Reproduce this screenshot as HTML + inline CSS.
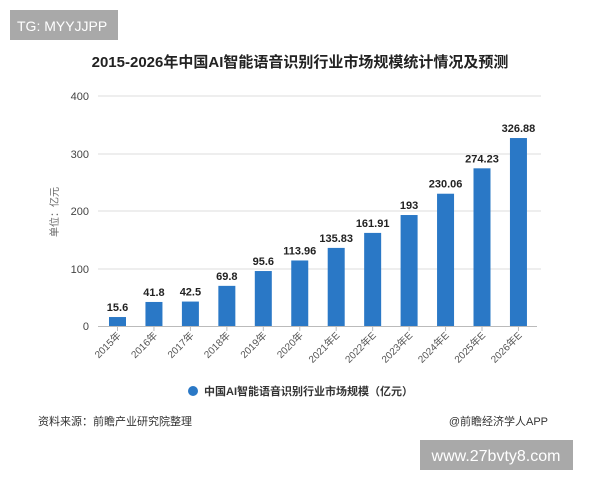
<!DOCTYPE html>
<html><head><meta charset="utf-8"><style>
body{margin:0;width:600px;height:480px;background:#fff;overflow:hidden;font-family:"Liberation Sans","Noto Sans CJK SC",sans-serif;}
</style></head><body>
<svg width="600" height="480" xmlns="http://www.w3.org/2000/svg" font-family="Liberation Sans, Noto Sans CJK SC, sans-serif">
<rect x="10" y="10" width="108" height="30" fill="#a9a9a9"/>
<text x="17" y="31" font-size="14" fill="#fff">TG: MYYJJPP</text>
<text x="300" y="67" font-size="15" font-weight="bold" text-anchor="middle" fill="#222">2015-2026年中国AI智能语音识别行业市场规模统计情况及预测</text>
<g stroke="#ddd" stroke-width="1">
<line x1="98" y1="96" x2="541" y2="96"/><line x1="98" y1="154" x2="541" y2="154"/><line x1="98" y1="211" x2="541" y2="211"/><line x1="98" y1="269" x2="541" y2="269"/>
</g>
<line x1="98" y1="326.5" x2="537" y2="326.5" stroke="#bbb"/>
<g font-size="11" fill="#444" text-anchor="end">
<text x="89" y="100">400</text><text x="89" y="158">300</text><text x="89" y="215">200</text><text x="89" y="273">100</text><text x="89" y="330">0</text>
</g>
<text transform="translate(58,212) rotate(-90)" font-size="10" fill="#666" text-anchor="middle">单位：亿元</text>
<g fill="#2a78c6">
<rect x="109" y="317.03" width="17" height="8.97"/>
<rect x="145.45" y="301.96" width="17" height="24.04"/>
<rect x="181.9" y="301.56" width="17" height="24.44"/>
<rect x="218.35" y="285.86" width="17" height="40.14"/>
<rect x="254.8" y="271.03" width="17" height="54.97"/>
<rect x="291.25" y="260.47" width="17" height="65.53"/>
<rect x="327.7" y="247.9" width="17" height="78.1"/>
<rect x="364.15" y="232.9" width="17" height="93.1"/>
<rect x="400.6" y="215.02" width="17" height="110.98"/>
<rect x="437.05" y="193.72" width="17" height="132.28"/>
<rect x="473.5" y="168.32" width="17" height="157.68"/>
<rect x="509.95" y="138.04" width="17" height="187.96"/>
</g>
<g font-size="11" font-weight="bold" fill="#222" text-anchor="middle">
<text x="117.5" y="311">15.6</text>
<text x="153.95" y="296">41.8</text>
<text x="190.4" y="295.5">42.5</text>
<text x="226.85" y="280">69.8</text>
<text x="263.3" y="265">95.6</text>
<text x="299.75" y="254.5">113.96</text>
<text x="336.2" y="242">135.83</text>
<text x="372.65" y="227">161.91</text>
<text x="409.1" y="209">193</text>
<text x="445.55" y="187.7">230.06</text>
<text x="482" y="162.3">274.23</text>
<text x="518.45" y="132">326.88</text>
</g>
<g stroke="#bbb">
<line x1="117.5" y1="326" x2="117.5" y2="331"/><line x1="153.95" y1="326" x2="153.95" y2="331"/><line x1="190.4" y1="326" x2="190.4" y2="331"/><line x1="226.85" y1="326" x2="226.85" y2="331"/><line x1="263.3" y1="326" x2="263.3" y2="331"/><line x1="299.75" y1="326" x2="299.75" y2="331"/><line x1="336.2" y1="326" x2="336.2" y2="331"/><line x1="372.65" y1="326" x2="372.65" y2="331"/><line x1="409.1" y1="326" x2="409.1" y2="331"/><line x1="445.55" y1="326" x2="445.55" y2="331"/><line x1="482" y1="326" x2="482" y2="331"/><line x1="518.45" y1="326" x2="518.45" y2="331"/>
</g>
<g font-size="10" fill="#555" text-anchor="end">
<text transform="translate(121.5,336) rotate(-45)">2015年</text>
<text transform="translate(157.95,336) rotate(-45)">2016年</text>
<text transform="translate(194.4,336) rotate(-45)">2017年</text>
<text transform="translate(230.85,336) rotate(-45)">2018年</text>
<text transform="translate(267.3,336) rotate(-45)">2019年</text>
<text transform="translate(303.75,336) rotate(-45)">2020年</text>
<text transform="translate(340.2,336) rotate(-45)">2021年E</text>
<text transform="translate(376.65,336) rotate(-45)">2022年E</text>
<text transform="translate(413.1,336) rotate(-45)">2023年E</text>
<text transform="translate(449.55,336) rotate(-45)">2024年E</text>
<text transform="translate(486,336) rotate(-45)">2025年E</text>
<text transform="translate(522.45,336) rotate(-45)">2026年E</text>
</g>
<circle cx="193" cy="391" r="5" fill="#2a78c6"/>
<text x="204" y="395" font-size="11" fill="#333" font-weight="bold">中国AI智能语音识别行业市场规模（亿元）</text>
<text x="38" y="425" font-size="11" fill="#333">资料来源：前瞻产业研究院整理</text>
<text x="548" y="425" font-size="11" fill="#333" text-anchor="end">@前瞻经济学人APP</text>
<rect x="420" y="440" width="153" height="30" fill="#a9a9a9"/>
<text x="496" y="461" font-size="16" fill="#fff" text-anchor="middle">www.27bvty8.com</text>
</svg>
</body></html>
